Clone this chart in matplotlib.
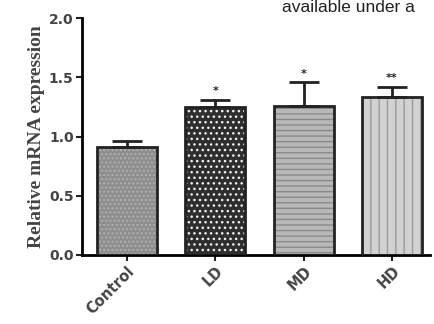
import matplotlib.pyplot as plt

groups = ["Control", "LD", "MD", "HD"]
means = [0.91, 1.25, 1.26, 1.33]
errors = [0.05, 0.06, 0.20, 0.09]
marks = ["", "*", "*", "**"]

faces = ["#8e8e8e", "#2e2e2e", "#b8b8b8", "#d2d2d2"]
hatches = ["....", "...", "---", "||"]
hatch_cols = ["#b0b0b0", "#f2f2f2", "#8a8a8a", "#9a9a9a"]

plt.rcParams['hatch.linewidth'] = 1.0
fig = plt.figure(figsize=(4.35, 3.24), dpi=100)
ax = fig.add_axes([0.1885, 0.213, 0.80, 0.731])

x = list(range(len(groups)))
for i in x:
    ax.bar(i, means[i], width=0.68, color=faces[i], edgecolor=hatch_cols[i],
           hatch=hatches[i], linewidth=0, zorder=2)
    ax.bar(i, means[i], width=0.68, color="none", edgecolor="#222222",
           linewidth=2, zorder=3)

ax.errorbar(x, means, yerr=[[0]*4, errors], fmt="none", ecolor="#222222",
            elinewidth=2, capsize=11, capthick=2, zorder=4)

for i in x:
    if marks[i]:
        ax.text(i, means[i] + errors[i] + 0.03, marks[i], ha="center", va="bottom",
                fontsize=8, fontweight="bold", color="#222222")

ax.set_xlim(-0.51, 3.43)
ax.set_ylim(0, 2.0)
ax.set_yticks([0.0, 0.5, 1.0, 1.5, 2.0])
ax.set_yticklabels(["0.0", "0.5", "1.0", "1.5", "2.0"], fontsize=10, fontweight="bold", color="#444444")
ax.set_xticks(x)
ax.set_xticklabels(groups, rotation=45, ha="right", rotation_mode="anchor",
                   fontsize=10.5, fontweight="bold", color="#444444")
ax.spines["top"].set_visible(False)
ax.spines["right"].set_visible(False)
ax.spines["left"].set_linewidth(2)
ax.spines["bottom"].set_linewidth(2)
ax.tick_params(axis="both", width=1.5, length=4, color="#222222", pad=2)
ax.set_ylabel("Relative mRNA expression", family="Liberation Serif", fontweight="bold",
              fontsize=14, color="#444444", labelpad=3)

fig.text(0.648, 0.962, "available under a", fontsize=12.5, family="Liberation Sans",
         color="#222222", va="baseline")

fig.savefig("out.png", dpi=100)
